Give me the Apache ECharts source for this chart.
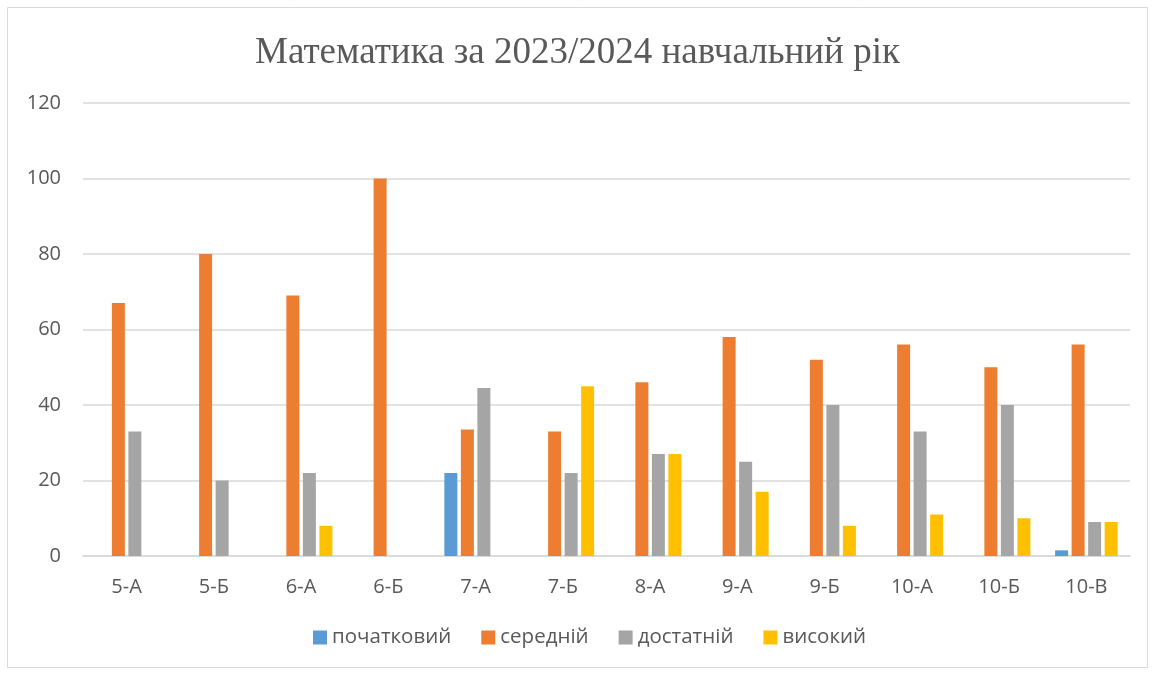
<!DOCTYPE html>
<html><head><meta charset="utf-8">
<script src="https://cdn.jsdelivr.net/npm/echarts@6/dist/echarts.min.js"></script>
<style>html,body{margin:0;padding:0;background:#fff}#c{width:1155px;height:674px}</style>
</head><body><div id="c"></div>
<script>
const categories = ['5-А','5-Б','6-А','6-Б','7-А','7-Б','8-А','9-А','9-Б','10-А','10-Б','10-В'];
const seriesNames = ['початковий','середній','достатній','високий'];
const pochatkovyi = [0,0,0,0,22,0,0,0,0,0,0,1.5];
const serednii   = [67,80,69,100,33.5,33,46,58,52,56,50,56];
const dostatnii  = [33,20,22,0,44.5,22,27,25,40,33,40,9];
const vysokyi    = [0,0,8,0,0,45,27,17,8,11,10,9];
const yTicks = {min:0,max:120,interval:20};
const colors = ['#5B9BD5','#ED7D31','#A5A5A5','#FFC000'];
const values = [pochatkovyi, serednii, dostatnii, vysokyi];

const chart = echarts.init(document.getElementById('c'));
const labelFont = '"Open Sans", "Liberation Sans", sans-serif';
chart.setOption({
  animation:false,
  color: colors,
  title:{text:'Математика за 2023/2024 навчальний рік', left:'center', top:30,
    textStyle:{fontFamily:'"Liberation Serif", "DejaVu Serif", serif', fontSize:37, fontWeight:'normal', color:'#595959'}},
  graphic:[{type:'rect', shape:{x:7.5,y:7.5,width:1140,height:660}, style:{fill:'none', stroke:'#d9d9d9', lineWidth:1}, silent:true}],
  legend:{bottom:21, left:308, itemWidth:14, itemHeight:14, itemGap:30, icon:'rect',
    textStyle:{fontFamily:labelFont, fontSize:20.5, color:'#595959'}, data:seriesNames},
  grid:{left:83, right:25, top:103, bottom:118},
  xAxis:{type:'category', data:categories,
    axisLine:{lineStyle:{color:'#d9d9d9', width:1.5}}, axisTick:{show:false},
    axisLabel:{fontFamily:labelFont, fontSize:20, color:'#595959', margin:21}},
  yAxis:{type:'value', min:yTicks.min, max:yTicks.max, interval:yTicks.interval,
    axisLine:{show:false}, axisTick:{show:false},
    splitLine:{lineStyle:{color:'#d9d9d9', width:1.5}},
    axisLabel:{fontFamily:labelFont, fontSize:20, color:'#595959', margin:22}},
  series: seriesNames.map((n,i)=>({name:n, type:'bar', data:values[i], barWidth:13, barGap:'27%',
    itemStyle:{color:colors[i], borderWidth:0}}))
});
</script></body></html>
